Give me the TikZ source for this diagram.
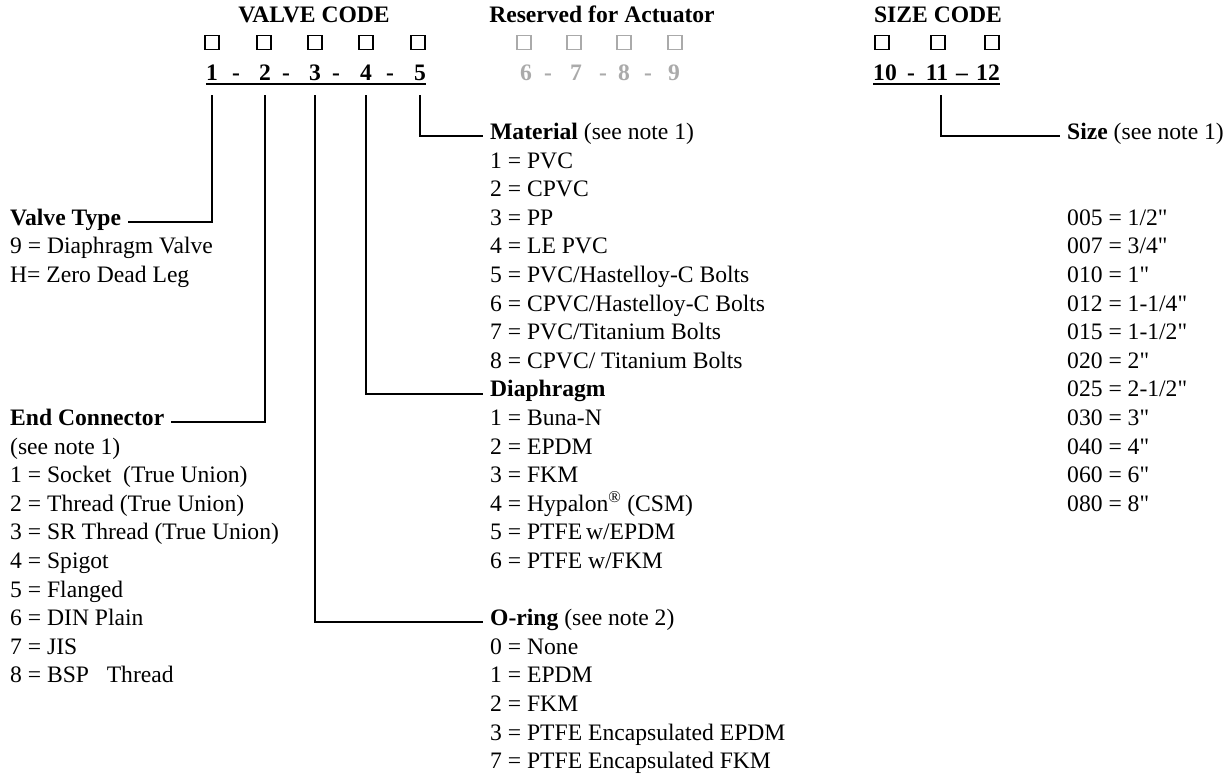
\documentclass[tikz,border=0pt]{standalone}
\usepackage{fontspec}
\setmainfont{Liberation Serif}[Ligatures=TeXOff]
\definecolor{actgray}{RGB}{170,170,170}
\tikzset{
  txt/.style={font=\fontsize{23.6}{28.6}\selectfont, inner sep=0pt},
  head/.style={txt, anchor=base west, inner xsep=7pt, text height=0.66em, text depth=0pt},
  item/.style={txt, anchor=base west},
  title/.style={txt, font=\fontsize{23.6}{28.6}\selectfont\bfseries, anchor=base},
  digit/.style={txt, font=\fontsize{23.6}{28.6}\selectfont\bfseries, anchor=base},
  box/.style={draw, line width=1.8pt, minimum size=14pt, inner sep=0pt},
  conn/.style={line width=2pt},
  uline/.style={line width=1.5pt}
}
\begin{document}
\begin{tikzpicture}[x=1pt,y=-1pt]
  \useasboundingbox (0,0) rectangle (1232,777);
  % code headers
  \node[title] (vcode) at (314,22.5) {VALVE CODE};
  \node[title] (acode) at (602,22.5) {Reserved for Actuator};
  \node[title] (scode) at (938,22.5) {SIZE CODE};
  % valve code boxes and digits
  \foreach \x [count=\i] in {212,264,315,366,418}
    \node[box] (bv\i) at (\x,42.5) {};
  \foreach \x/\d in {212/1,265/2,315/3,366/4,420/5}
    \node[digit] (v\d) at (\x,80) {\d};
  \foreach \x [count=\i] in {236,286,336,390}
    \node[digit] (vd\i) at (\x,80) {-};
  \draw[uline] ([yshift=-4pt]v1.base west) -- ([yshift=-4pt]v5.base east);
  % actuator (greyed out)
  \foreach \x [count=\i] in {524,574,624,675}
    \node[box, draw=actgray, line width=1.5pt] (ba\i) at (\x,42.5) {};
  \foreach \x/\d in {526/6,576/7,624/8,674/9}
    \node[digit, text=actgray] (a\d) at (\x,80) {\d};
  \foreach \x [count=\i] in {548,603,648}
    \node[digit, text=actgray] (ad\i) at (\x,80) {-};
  % size code
  \foreach \x [count=\i] in {882,938,992}
    \node[box] (bs\i) at (\x,42.5) {};
  \node[digit] (s10) at (885,80) {10};
  \node[digit] (sd1) at (911,80) {-};
  \node[digit] (s11) at (937,80) {11};
  \node[digit] (sd2) at (962,80) {–};
  \node[digit] (s12) at (988,80) {12};
  \draw[uline] ([yshift=-4pt]s10.base west) -- ([yshift=-4pt]s12.base east);

  % left column
  \node[head] (vtype) at (3,225.3) {\textbf{Valve Type}};
  \foreach \t [count=\i from 4] in {9 = Diaphragm Valve, H= Zero Dead Leg}
    \node[item] (vt\i) at (10,{139.5+28.6*\i}) {\t};
  \node[head] (endcon) at (3,425.5) {\textbf{End Connector}};
  \foreach \t [count=\i from 11] in {(see note 1), 1 = Socket \ (True Union),
      2 = Thread (True Union), 3 = SR Thread (True Union), 4 = Spigot,
      5 = Flanged, 6 = DIN Plain, 7 = JIS, 8 = BSP \ \ Thread}
    \node[item] (ec\i) at (10,{139.5+28.6*\i}) {\t};

  % middle column
  \node[head] (matl) at (483,139.5) {\textbf{Material} (see note 1)};
  \foreach \t [count=\i from 1] in {1 = PVC, 2 = CPVC, 3 = PP, 4 = LE PVC,
      5 = PVC/Hastelloy-C Bolts, 6 = CPVC/Hastelloy-C Bolts,
      7 = PVC/Titanium Bolts, 8 = CPVC/ Titanium Bolts}
    \node[item] (mt\i) at (490,{139.5+28.6*\i}) {\t};
  \node[head] (diaph) at (483,{139.5+28.6*9}) {\textbf{Diaphragm}};
  \foreach \t [count=\i from 10] in {1 = Buna-N, 2 = EPDM, 3 = FKM,
      {4 = Hypalon\textsuperscript{®} (CSM)}, 5 = PTFE\,w/EPDM, 6 = PTFE w/FKM}
    \node[item] (dp\i) at (490,{139.5+28.6*\i}) {\t};
  \node[head] (oring) at (483,{139.5+28.6*17}) {\textbf{O-ring} (see note 2)};
  \foreach \t [count=\i from 18] in {0 = None, 1 = EPDM, 2 = FKM,
      3 = PTFE Encapsulated EPDM, 7 = PTFE Encapsulated FKM}
    \node[item] (or\i) at (490,{139.5+28.6*\i}) {\t};

  % right column
  \node[head] (size) at (1060,139.5) {\textbf{Size} (see note 1)};
  \foreach \t [count=\i from 3] in {005 = 1/2", 007 = 3/4", 010 = 1", 012 = 1-1/4",
      015 = 1-1/2", 020 = 2", 025 = 2-1/2", 030 = 3", 040 = 4", 060 = 6", 080 = 8"}
    \node[item] (sz\i) at (1067,{139.5+28.6*\i}) {\t};

  % connectors
  \draw[conn] ([yshift=-15pt]v1.base) |- (vtype.east);
  \draw[conn] ([yshift=-15pt]v2.base) |- (endcon.east);
  \draw[conn] ([yshift=-15pt]v3.base) |- (oring.west);
  \draw[conn] ([yshift=-15pt]v4.base) |- (diaph.west);
  \draw[conn] ([yshift=-15pt]v5.base) |- (matl.west);
  \draw[conn] ([xshift=4pt,yshift=-15pt]s11.base) |- (size.west);
\end{tikzpicture}
\end{document}
